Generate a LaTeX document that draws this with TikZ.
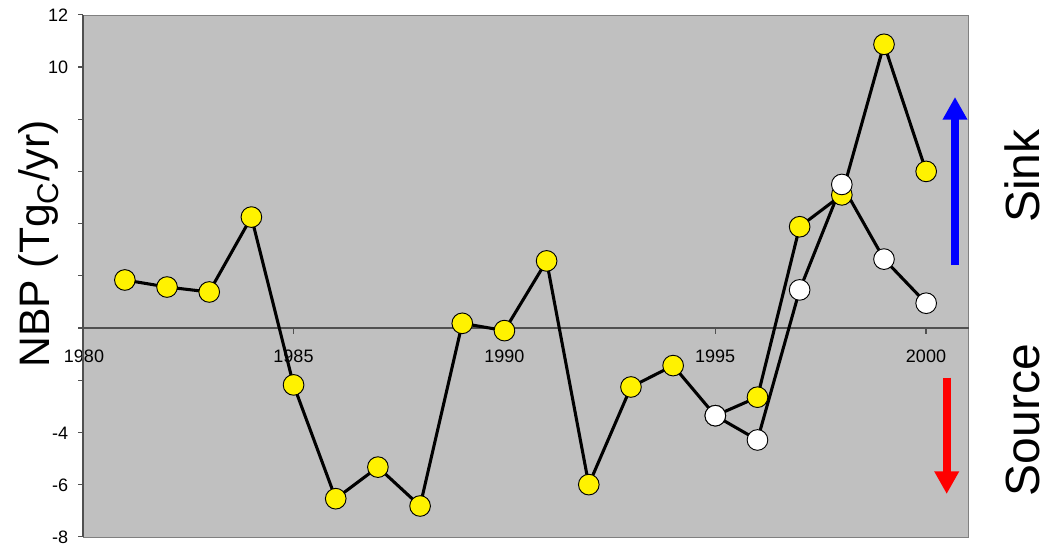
\documentclass[tikz,border=0pt]{standalone}
\usepackage{fontspec}
\setmainfont{Liberation Sans}
\usetikzlibrary{arrows.meta}
\pgfdeclarelayer{bg}
\pgfsetlayers{bg,main}
\definecolor{plotgray}{RGB}{192,192,192}
\definecolor{axisgray}{RGB}{80,80,80}

\begin{document}
\begin{tikzpicture}[x=0.75pt,y=-0.75pt]
      \useasboundingbox (0,0) rectangle (1046,546);
      \tikzset{Y/.style = {shape=circle, draw, fill=yellow, line width=0.7pt, inner sep=0pt, minimum size=15.5pt}}
      \tikzset{W/.style = {Y, fill=white}}
      \tikzset{E/.style = {draw, line width=2.3pt, line join=round}}
      \tikzset{T/.style = {font=\fontsize{13.5}{16}\selectfont, text=black, inner sep=0pt}}
      \tikzset{A/.style = {line width=6pt, -{Triangle[width=17.5pt,length=17pt]}}}
      \tikzset{H/.style = {rotate=90, anchor=base, inner sep=0pt}}
      \begin{pgfonlayer}{bg}
      \fill[plotgray] (82.7,14.8) rectangle (968.5,536.8);
      \draw[gray] (82.7,14.8) -- (968.5,14.8) -- (968.5,536.8) -- (82.7,536.8);
      \node[T](x1980) at (84,356.5) {1980};
      \node[T](x1985) at (293.5,356.5) {1985};
      \node[T](x1990) at (504.3,356.5) {1990};
      \node[T](x1995) at (715.1,356.5) {1995};
      \node[T](x2000) at (926,356.5) {2000};
      \node[T,anchor=east](v12) at (68.5,15.5) {12};
      \node[T,anchor=east](v10) at (68.5,67.5) {10};
      \node[T,anchor=east](vm4) at (68.5,432.9) {-4};
      \node[T,anchor=east](vm6) at (68.5,485.1) {-6};
      \node[T,anchor=east](vm8) at (68.5,537.3) {-8};
      \draw[axisgray,line width=1pt] (82.7,328) -- (968.5,328);
      \draw[axisgray,line width=1.2pt] (82.7,14.8) -- (82.7,536.8);
      \draw[axisgray,line width=0.8pt] (78,14.8) -- (82.7,14.8);
      \draw[axisgray,line width=0.8pt] (78,67) -- (82.7,67);
      \draw[axisgray,line width=0.8pt] (78,119.2) -- (82.7,119.2);
      \draw[axisgray,line width=0.8pt] (78,171.4) -- (82.7,171.4);
      \draw[axisgray,line width=0.8pt] (78,223.6) -- (82.7,223.6);
      \draw[axisgray,line width=0.8pt] (78,275.8) -- (82.7,275.8);
      \draw[axisgray,line width=0.8pt] (78,328) -- (82.7,328);
      \draw[axisgray,line width=0.8pt] (78,380.2) -- (82.7,380.2);
      \draw[axisgray,line width=0.8pt] (78,432.4) -- (82.7,432.4);
      \draw[axisgray,line width=0.8pt] (78,484.6) -- (82.7,484.6);
      \draw[axisgray,line width=0.8pt] (78,536.8) -- (82.7,536.8);
      \draw[axisgray,line width=0.8pt] (293.5,328) -- (293.5,334);
      \draw[axisgray,line width=0.8pt] (504.3,328) -- (504.3,334);
      \draw[axisgray,line width=0.8pt] (715.1,328) -- (715.1,334);
      \draw[axisgray,line width=0.8pt] (926,328) -- (926,334);
      \end{pgfonlayer}
      \begin{scope}[shift={(82.7,328)}, x=31.63pt, y=19.575pt]
      \node[Y](y81) at (1,1.84) {};
      \node[Y](y82) at (2,1.57) {};
      \node[Y](y83) at (3,1.38) {};
      \node[Y](y84) at (4,4.25) {};
      \node[Y](y85) at (5,-2.18) {};
      \node[Y](y86) at (6,-6.54) {};
      \node[Y](y87) at (7,-5.33) {};
      \node[Y](y88) at (8,-6.82) {};
      \node[Y](y89) at (9,0.18) {};
      \node[Y](y90) at (10,-0.10) {};
      \node[Y](y91) at (11,2.57) {};
      \node[Y](y92) at (12,-6.00) {};
      \node[Y](y93) at (13,-2.26) {};
      \node[Y](y94) at (14,-1.44) {};
      \node[Y](y95) at (15,-3.36) {};
      \node[Y](y96) at (16,-2.65) {};
      \node[Y](y97) at (17,3.88) {};
      \node[Y](y98) at (18,5.10) {};
      \node[Y](y99) at (19,10.87) {};
      \node[Y](y00) at (20,6.00) {};
      \node[W](w95) at (15,-3.36) {};
      \node[W](w96) at (16,-4.29) {};
      \node[W](w97) at (17,1.46) {};
      \node[W](w98) at (18,5.50) {};
      \node[W](w99) at (19,2.64) {};
      \node[W](w00) at (20,0.95) {};
      \end{scope}
      \begin{pgfonlayer}{bg}
      \draw[E] (y81.center) -- (y82.center) -- (y83.center) -- (y84.center) -- (y85.center) -- (y86.center) -- (y87.center) -- (y88.center) -- (y89.center) -- (y90.center) -- (y91.center) -- (y92.center) -- (y93.center) -- (y94.center) -- (y95.center) -- (y96.center) -- (y97.center) -- (y98.center) -- (y99.center) -- (y00.center);
      \draw[E] (w95.center) -- (w96.center) -- (w97.center) -- (w98.center) -- (w99.center) -- (w00.center);
      \end{pgfonlayer}
      \coordinate (sinkfoot) at (955,265);
      \coordinate (sinktip) at (955,97);
      \coordinate (sourcefoot) at (946.7,377.5);
      \coordinate (sourcetip) at (946.7,494);
      \draw[A,blue] (sinkfoot) -- (sinktip);
      \draw[A,red] (sourcefoot) -- (sourcetip);
      \node[H,font=\fontsize{32}{36}\selectfont](nbp) at (49,244) {NBP (Tg\textsubscript{C}/yr)};
      \node[H,font=\fontsize{36}{40}\selectfont](sink) at (1039,176) {Sink};
      \node[H,font=\fontsize{36}{40}\selectfont](source) at (1039,420) {Source};
%     \draw[gray,dashed] (82.7,328) -- (968.5,328);
    \end{tikzpicture}
\end{document}
